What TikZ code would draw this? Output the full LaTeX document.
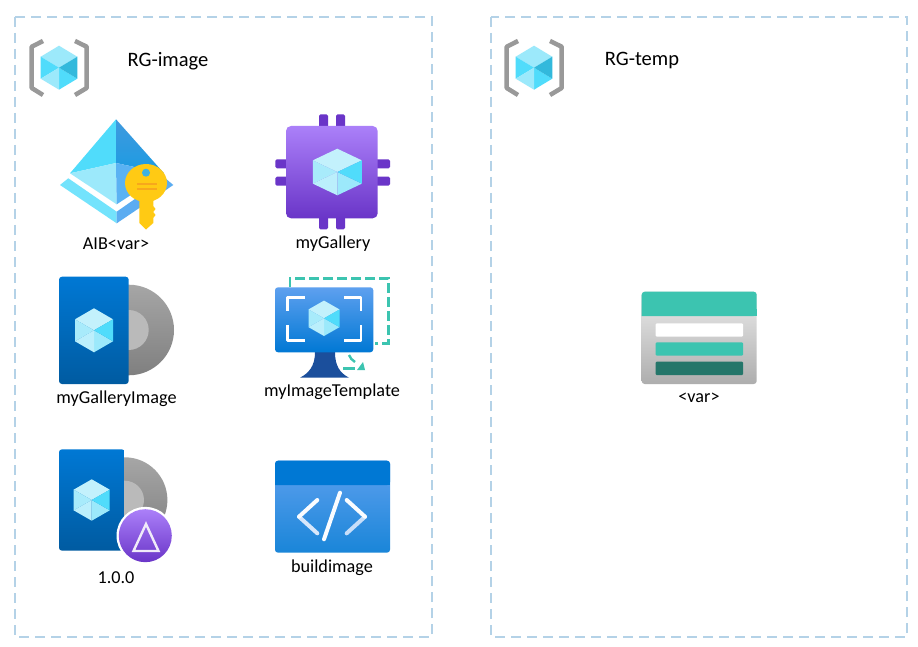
\documentclass[tikz,border=0pt]{standalone}
\usepackage{fontspec}
\setmainfont{Carlito}
\definecolor{box_blue}{HTML}{B4D2E7}
\definecolor{cube_pale}{HTML}{C3F1FC}
\definecolor{cube_light}{HTML}{9CE9FB}
\definecolor{cube_cyan}{HTML}{50DCFB}
\definecolor{cube_dark}{HTML}{32B9DC}
\definecolor{az_blue}{HTML}{0078D4}
\definecolor{az_navy}{HTML}{005BA1}
\definecolor{az_sky}{HTML}{5EA0EF}
\definecolor{az_stand}{HTML}{1B4F9C}
\definecolor{az_teal}{HTML}{3CC4B0}
\definecolor{az_purple}{HTML}{6A35C8}
\definecolor{az_lilac}{HTML}{AB80F9}
\definecolor{key_yellow}{HTML}{FFCA14}
\definecolor{key_orange}{HTML}{F7A81C}

% cube: centre x, centre y, half width, half height
\newcommand{\flatcube}[4]{
	\begin{scope}[shift={(#1,#2)},x=#3pt,y=-#4pt]
		\fill[cube_light] (0,0) -- (-1,-.5) -- (0,-1) -- (1,-.5) -- cycle;
		\fill[cube_cyan] (0,0) -- (-1,-.5) -- (-1,.5) -- cycle;
		\fill[cube_cyan] (0,0) -- (0,1) -- (1,.5) -- cycle;
		\fill[cube_dark] (0,0) -- (1,-.5) -- (1,.5) -- cycle;
		\fill[cube_light] (0,0) -- (-1,.5) -- (0,1) -- cycle;
	\end{scope}}
\newcommand{\palecube}[4]{
	\begin{scope}[shift={(#1,#2)},x=#3pt,y=-#4pt]
		\fill[cube_pale] (0,0) -- (-1,-.5) -- (0,-1) -- (1,-.5) -- cycle;
		\fill[cube_light!70!cube_pale] (0,0) -- (-1,-.5) -- (-1,.5) -- cycle;
		\fill[cube_light] (0,0) -- (0,1) -- (1,.5) -- cycle;
		\fill[cube_cyan] (0,0) -- (1,-.5) -- (1,.5) -- cycle;
		\fill[cube_pale!80!cube_light] (0,0) -- (-1,.5) -- (0,1) -- cycle;
	\end{scope}}
% resource group mark: x offset
\newcommand{\groupmark}[1]{
	\begin{scope}[xshift=#1pt]
		\draw[bracket_style] (43,41) -- (31.7,46.7) -- (31.7,88) -- (43,95);
		\draw[bracket_style] (75,41) -- (86.7,46.7) -- (86.7,88) -- (75,95);
		\flatcube{59}{67.7}{18.3}{22}
	\end{scope}}

\begin{document}
\begin{tikzpicture}[x=1pt,y=-1pt,
		group_style/.style={draw=box_blue,line width=1.3pt,dash pattern=on 10pt off 6pt},
		bracket_style/.style={draw=black!40,line width=4.5pt,line join=round},
		label_style/.style={font=\fontsize{18.2}{21}\selectfont,text=black,inner sep=0pt},
		title_style/.style={font=\fontsize{20.5}{24}\selectfont,text=black,inner sep=0pt},
		pin_style/.style={fill=az_purple,rounded corners=1.5pt},
		dash_style/.style={draw=az_teal,line width=2.7pt,dash pattern=on 10pt off 4pt},
		corner_style/.style={draw=white,line width=2.6pt,line join=round},
		code_style/.style={draw=white,line width=4pt,line cap=round,line join=round}]
		\useasboundingbox (0,0) rectangle (918,647);
		\fill[white] (0,0) rectangle (918,647);

		\draw[group_style] (15,17) rectangle (432,637);
		\draw[group_style] (491,17) rectangle (907,637);
		\groupmark{0}
		\groupmark{475}

		% key vault style pyramid
		\fill[cube_cyan] (116,119.3) -- (70,173.3) -- (116,163) -- cycle;
		\fill[cube_light] (70,173.3) -- (116,163) -- (116.7,204.3) -- cycle;
		\shade[top color=az_blue!75!white,bottom color=az_blue!65!cube_cyan] (116,119.3) -- (164,173.3) -- (116,163) -- cycle;
		\fill[az_sky!70!cube_cyan] (164,173.3) -- (116,163) -- (116.7,204.3) -- cycle;
		\fill[cube_cyan!80!white] (60,185) -- (68.3,178.3) -- (116.7,211.7) -- (116.7,223.3) -- cycle;
		\fill[az_sky!80!cube_cyan] (173.3,185) -- (165,178) -- (116.7,211.7) -- (116.7,223.3) -- cycle;
		\fill[key_yellow] (146,183) ellipse (21pt and 19pt);
		\fill[key_yellow] (139.3,198) -- (153.3,198) -- (153.3,206) -- (155.5,209) -- (153.3,212) -- (155.5,215) -- (153.3,218) -- (153.3,223) -- (146,229.5) -- (139.3,223) -- cycle;
		\fill[cube_dark!70!az_sky] (146,172.7) circle (4pt);
		\fill[key_orange] (136.7,183.5) rectangle (156.7,185.5);
		\fill[key_orange] (136.7,188.5) rectangle (156.7,190.5);
		\node[label_style] (n_aib) at (116,244) {AIB<var>};

		% gallery chip
		\foreach \px in {319,336} {
			\fill[pin_style] (\px,114.3) rectangle ++(9,14);
			\fill[pin_style] (\px,216) rectangle ++(9,13.3);
		}
		\foreach \py in {159.3,176.7} {
			\fill[pin_style] (275.3,\py) rectangle ++(13,9);
			\fill[pin_style] (375,\py) rectangle ++(15,9);
		}
		\shade[top color=az_lilac,bottom color=az_purple,rounded corners=5pt] (286,126) rectangle (377.7,218.3);
		\palecube{337.3}{172}{24.5}{23.3}
		\node[label_style] (n_gallery) at (333,244) {myGallery};

		% gallery image
		\shade[top color=black!35,bottom color=black!50] (128.7,330) circle (45.3pt);
		\fill[black!27] (128.7,330) circle (20pt);
		\shade[top color=az_blue,bottom color=az_navy,rounded corners=3pt] (59,276.7) rectangle (128.7,384);
		\palecube{94}{330.3}{19}{22}
		\node[label_style] (n_image) at (116.5,399) {myGalleryImage};

		% image template
		\draw[dash_style] (290,287) -- (290,278.3) -- (388.3,278.3) -- (388.3,343.3) -- (375,343.3);
		\draw[az_teal,line width=2.4pt] (349,355) .. controls (350,358) and (352,360) .. (355,362);
		\fill[az_teal] (365,370) -- (357,370) -- (363,362) -- cycle;
		\draw[az_teal,line width=2.4pt] (343,368.5) -- (355,368.5);
		\fill[az_stand] (315,352) -- (335,352) .. controls (335,366) and (340,373) .. (349,377.7) -- (300,377.7) .. controls (309,373) and (315,366) .. (315,352) -- cycle;
		\shade[top color=az_sky,bottom color=az_blue,rounded corners=3pt] (275,287.3) rectangle (373.3,352.3);
		\draw[corner_style] (287.3,310.7) -- (287.3,297.3) -- (305,297.3);
		\draw[corner_style] (344,297.3) -- (361,297.3) -- (361,310.7);
		\draw[corner_style] (287.3,325) -- (287.3,340.7) -- (305,340.7);
		\draw[corner_style] (344,340.7) -- (361,340.7) -- (361,325);
		\palecube{324}{318.3}{15.5}{17.7}
		\node[label_style] (n_template) at (332,392) {myImageTemplate};

		% image version
		\shade[top color=black!35,bottom color=black!50] (124.7,500) circle (42.7pt);
		\fill[black!27] (124.7,500) circle (19.3pt);
		\shade[top color=az_blue,bottom color=az_navy,rounded corners=3pt] (59,449.3) rectangle (124.7,550.7);
		\palecube{91.7}{500}{18}{20.7}
		\fill[white] (145.3,535.7) circle (28.8pt);
		\shade[top color=az_lilac,bottom color=az_purple] (145.3,535.7) circle (26.5pt);
		\draw[white!90!az_purple,line width=2.4pt,line join=miter] (146,524) -- (133.5,551) -- (158.5,551) -- cycle;
		\node[label_style] (n_version) at (116,578) {1.0.0};

		% build template
		\shade[top color=az_sky,bottom color=az_blue!90!white,rounded corners=3pt] (275,460.7) rectangle (390,552.7);
		\fill[az_blue,rounded corners=3pt] (275,485) -- (275,460.7) -- (390,460.7) -- (390,485) [sharp corners] -- cycle;
		\fill[az_blue] (275,478) rectangle (390,485);
		\draw[code_style,draw=white!75!az_sky] (299,516.7) -- (317.3,533.3);
		\draw[code_style,draw=white!65!az_sky] (365,516.7) -- (346.7,533.3);
		\draw[code_style,draw=white!97!az_sky] (317.3,500) -- (299,516.7);
		\draw[code_style,draw=white!97!az_sky] (346.7,500) -- (365,516.7);
		\draw[code_style,draw=white!97!az_sky] (340,492.7) -- (324,539.3);
		\node[label_style] (n_build) at (332,568) {buildimage};

		% storage
		\shade[top color=black!8,bottom color=black!32,rounded corners=3pt] (641.7,291.7) rectangle (756.7,384);
		\fill[az_teal,rounded corners=3pt] (641.7,316) -- (641.7,291.7) -- (756.7,291.7) -- (756.7,316) [sharp corners] -- cycle;
		\fill[az_teal] (641.7,309) rectangle (756.7,316);
		\fill[white,rounded corners=1pt] (655.7,323.3) rectangle (743,336.7);
		\fill[az_teal,rounded corners=1pt] (655.7,342.3) rectangle (743,355.7);
		\fill[az_teal!60!black,rounded corners=1pt] (655.7,361.7) rectangle (743,375);
		\node[label_style] (n_var) at (699,398) {<var>};

		\node[title_style] (n_rgimage) at (168,61) {RG-image};
		\node[title_style] (n_rgtemp) at (642,61) {RG-temp};
\end{tikzpicture}
\end{document}
